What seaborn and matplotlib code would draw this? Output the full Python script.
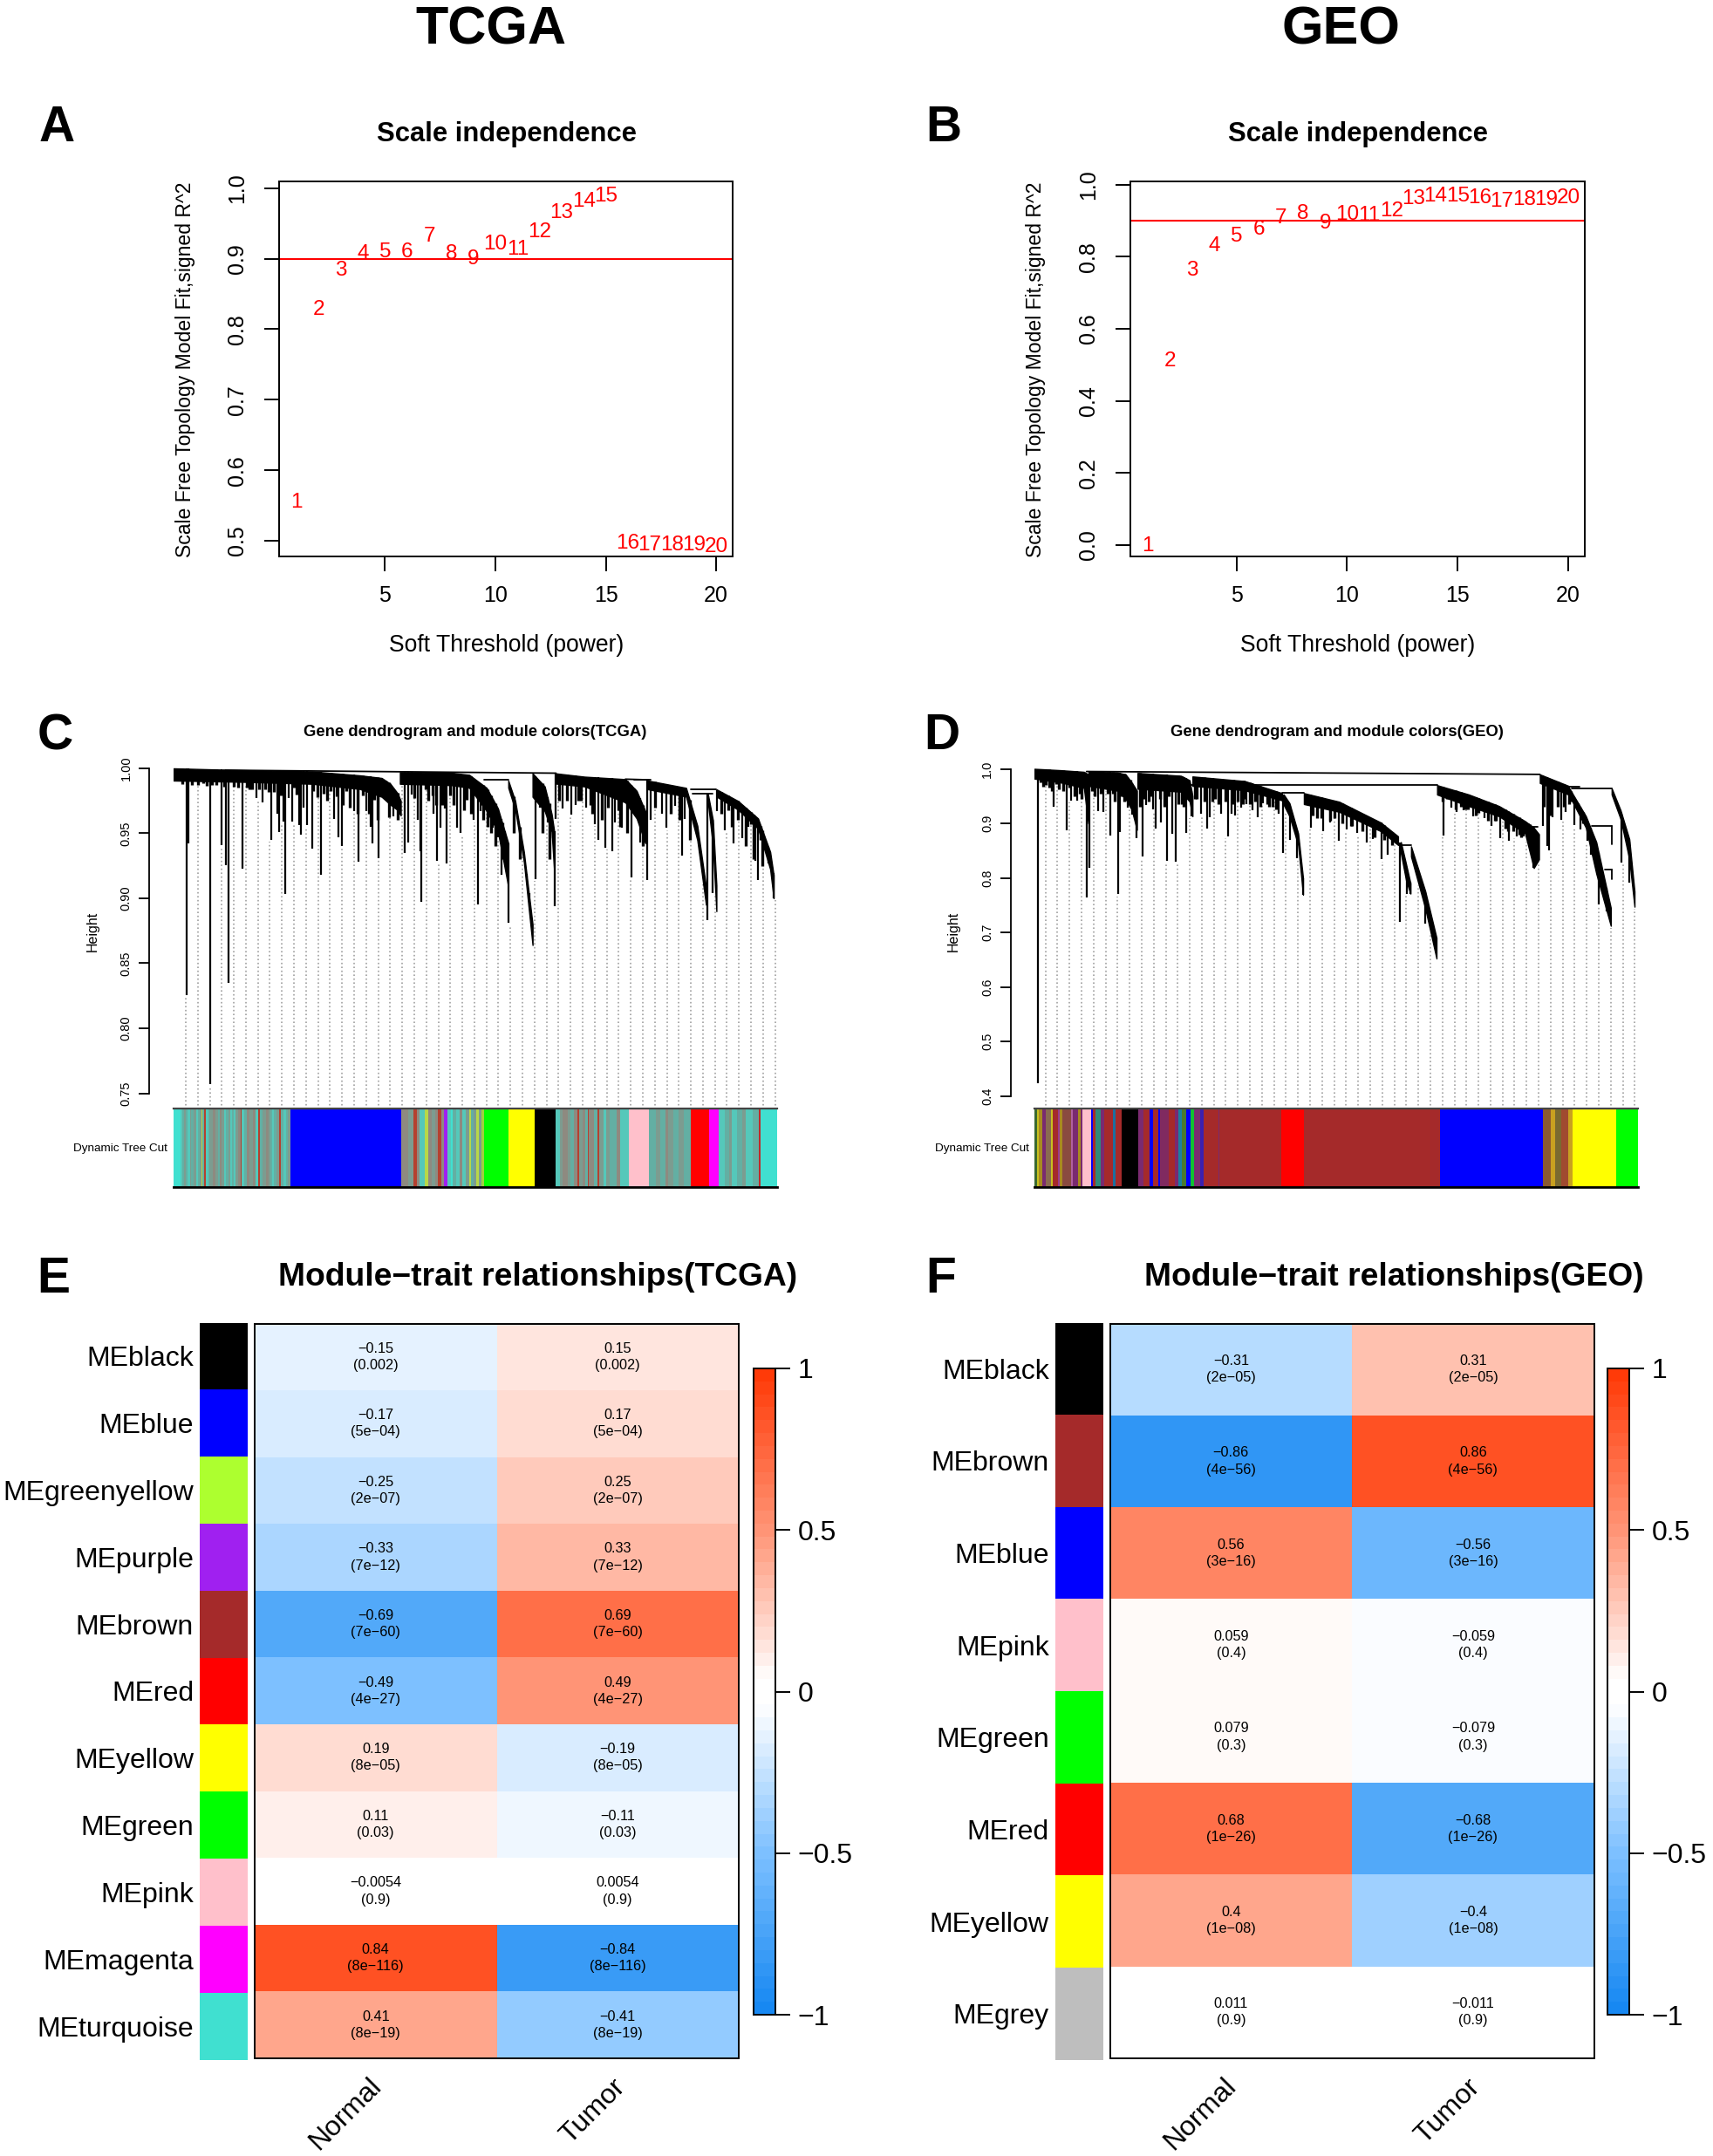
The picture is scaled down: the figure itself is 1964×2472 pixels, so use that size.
import numpy as np
import seaborn as sns
import matplotlib.pyplot as plt
from matplotlib.colors import LinearSegmentedColormap, ListedColormap

W, H = 1965, 2472

sns.set_theme(style='ticks', rc={'axes.edgecolor': 'black', 'text.color': 'black', 'xtick.color': 'black',
                                 'ytick.color': 'black', 'axes.labelcolor': 'black'})
plt.rcParams['font.family'] = ['Liberation Sans', 'DejaVu Sans']

# scale independence
powers = list(range(1, 21))
tcga_fit = [.555, .828, .884, .907, .91, .91, .932, .907, .90, .921, .913, .938, .965, .981, .989,
            .496, .494, .494, .494, .491]
geo_fit = [-.003, .51, .761, .83, .855, .876, .906, .918, .893, .916, .914, .927, .96, .968, .968,
           .962, .953, .958, .958, .963]

# dendrogram TCGA: bodies of the branches
c_band_pos = [[0, 80, 160, 215, 240, 250, 258, 262], [261, 320, 341, 361, 374, 386], [386, 394, 404, 414],
              [414, 428, 436, 439], [440, 474, 521, 534, 544], [547, 591, 604, 614], [616, 622, 626],
              [626, 651, 674, 688, 692]]
c_band_top = [[.9999, .9985, .9975, .9945, .9925, .988, .981, .975], [.997, .9965, .9949, .9849, .9692, .9424],
              [.9905, .9748, .9357, .88], [.9961, .986, .9648, .9513], [.9961, .9935, .9916, .9826, .967],
              [.9905, .9849, .9558, .9088], [.9809, .96, .91], [.9838, .9748, .9614, .9357, .9178]]
c_band_bot = [[.9905, .9895, .988, .984, .978, .972, .968, .9637], [.988, .987, .985, .967, .9513, .9088],
              [.985, .968, .928, .864], [.978, .967, .9513, .92], [.9882, .986, .9737, .9614, .9424],
              [.9838, .9782, .9446, .895], [.975, .94, .89], [.9782, .9681, .9536, .9223, .90]]
c_spike_pos = [14.7, 16.7, 42.7, 55, 60, 63.7, 79.3, 95.7, 102.7, 113, 119.3, 121.3, 126.7, 129, 132.7, 136.7,
               145.3, 147.3, 150, 153.7, 159.7, 170, 185, 190.3, 193.7, 207.7, 213.7, 222.7, 227, 229, 236.7,
               253.7, 267, 270.3, 275, 281.7, 284.3, 286, 299.7, 304, 307.7, 312.7, 314.7, 326.7, 331, 346.3,
               351, 353.7, 368.3, 374.3, 377.7, 382, 386, 407, 410.3, 417, 422.7, 431, 435, 439.3, 441, 448.3,
               458.3, 463.7, 476, 486, 490.3, 497.7, 506, 509, 517, 527.7, 537.7, 545.7, 550, 563.7, 568.7,
               578, 586.7, 589.3, 616, 622, 627, 635.7, 646, 656, 662.7, 671, 674.3, 681, 686, 691.7]
c_spike_tip = [.8257, .942, .757, .941, .9256, .835, .9227, .977, .974, .945, .965, .951, .959, .903, .977, .959,
               .956, .949, .970, .956, .938, .918, .961, .947, .940, .967, .928, .967, .955, .942, .931,
               .963, .935, .943, .98, .960, .936, .897, .965, .929, .954, .969, .927, .954, .950, .960,
               .895, .967, .954, .947, .918, .938, .881, .916, .904, .915, .970, .958, .946, .894, .961, .969,
               .964, .972, .970, .957, .945, .939, .936, .958, .954, .916, .943, .914, .960, .965, .954,
               .971, .933, .961, .883, .904, .967, .952, .942, .946, .955, .929, .914, .937, .927, .900]
c_hair_pos = [21, 27.7, 34, 49, 69, 84, 91, 99, 106, 116, 124, 139, 161, 173, 181, 188, 199, 218, 231, 244,
              291, 299, 319, 338, 470, 481, 501, 513, 531, 640, 651, 666, 677,
              10, 38, 44, 58, 74, 88, 110, 142, 166, 177, 195, 203, 212, 225, 235, 248, 258,
              278, 294, 303, 310, 323, 335, 343, 357, 362, 366, 371, 379, 392, 399, 425, 433,
              445, 454, 467, 483, 494, 515, 523, 541, 555, 573, 583, 595, 632, 644, 660, 669, 679]
c_hair_tip = [.9871, .9871, .9882, .9871, .986, .9849, .9838, .9838, .9838, .9815, .9793, .9849, .9826, .9804,
              .9826, .9782, .9826, .9793, .976, .9771, .9838, .9793, .9793, .976, .975, .972, .97, .968, .972,
              .968, .96, .957, .945,
              .9875, .9865, .987, .986, .985, .984, .982, .98, .978, .975, .972, .97, .965, .965, .96, .962, .96,
              .977, .975, .972, .972, .972, .968, .965, .96, .955, .95, .94, .93, .95, .93, .95, .93,
              .975, .975, .975, .965, .96, .955, .95, .94, .97, .965, .96, .945, .965, .955, .94, .93, .925]
c_link_x0 = [60, 358, 521, 531, 596, 598]
c_link_x1 = [441, 386, 547, 550, 626, 622]
c_link_h0 = [.9985, .9911, .9916, .991, .9838, .9805]
c_link_h1 = [.9962, .9911, .9911, .991, .9838, .9805]

# dendrogram GEO
d_band_pos = [[0, 30, 57, 62], [63, 95, 105, 112, 118], [118.7, 168.7, 178.7, 182], [182, 242, 285],
              [287, 293.7, 303.7, 309.3], [310.3, 351, 398.7, 418.7], [422, 428, 433], [433.7, 450, 463],
              [463.7, 500, 535, 565, 575, 581], [582, 615], [615.3, 635, 647, 663.7], [664.7, 675, 685, 691]]
d_band_top = [[1.0, .9975, .9945, .99], [.9945, .9935, .9898, .975, .96], [.9924, .9872, .979, .95],
              [.986, .9776, .9554], [.953, .937, .8815, .80], [.9554, .9396, .9016, .8762], [.8656, .825, .79],
              [.8577, .7759, .69], [.970, .953, .9317, .904, .892, .88], [.9898, .9687],
              [.966, .9132, .8656, .745], [.9644, .9237, .871, .775]]
d_band_bot = [[.982, .975, .965, .90], [.9685, .96, .945, .925, .888], [.9634, .958, .94, .913],
              [.9687, .9607, .9422], [.934, .913, .86, .769], [.9353, .9211, .8857, .8604], [.845, .795, .771],
              [.839, .7442, .652], [.9528, .9317, .913, .8815, .818, .834], [.974, .9528],
              [.9528, .892, .8076, .712], [.9528, .9078, .834, .747]]
d_spike_pos = [3.7, 22, 37, 42, 49.3, 60.3, 63, 73.7, 79.3, 87.7, 96.3, 98.7, 107.7, 112.7, 118, 124.3, 128.7,
               136.3, 140, 146, 152.7, 158.7, 163, 174.3, 181, 192.3, 198.7, 202, 214.7, 222.7, 227, 231, 237.7,
               244.3, 250.7, 257, 262.7, 281, 286.3, 294.7, 302.7, 309.3, 318, 332, 340.7, 351, 360, 372, 383,
               389.7, 399.3, 406.3, 421, 429.3, 432.7, 450.3, 471, 480.3, 486, 494.3, 504.7, 518.7, 526, 536.3,
               546.3, 555.3, 563.7, 574, 585.7, 590.3, 592.7, 597, 607, 612, 622, 628.7, 637, 640.3, 649.7,
               658.7, 676.3, 685.3]
d_spike_tip = [.4238, .930, .887, .942, .942, .764, .818, .923, .921, .877, .770, .884, .929, .916, .873, .839, .934,
               .926, .891, .902, .831, .881, .829, .883, .913, .918, .89, .911, .917, .876, .918, .914, .929,
               .935, .924, .911, .937, .917, .845, .869, .836, .769, .892, .885, .902, .868, .889, .883, .865,
               .872, .834, .843, .719, .771, .771, .716, .878, .929, .921, .924, .913, .91, .896, .873,
               .868, .876, .876, .818, .896, .858, .85, .911, .907, .921, .897, .889, .868, .843, .752,
               .739, .828, .792]
d_hair_pos = [7, 13, 17, 28, 33, 46, 54, 69, 84, 92, 103, 122, 132, 150, 170, 187, 208, 234, 241, 254, 268, 274,
              325, 345, 366, 412, 475, 491, 499, 511, 531, 542, 551, 560, 568, 616, 618,
              10, 20, 25, 40, 52, 66, 76, 90, 100, 110, 126, 135, 145, 155, 166, 172, 185, 196, 205, 212, 220, 229,
              240, 248, 260, 270, 278, 320, 330, 340, 355, 365, 378, 392, 403, 470, 485, 496, 508, 522, 530, 545,
              558, 570, 587, 595, 603, 610, 626, 632]
d_hair_tip = [.975, .97, .966, .962, .96, .95, .945, .95, .955, .94, .94, .93, .94, .93, .935, .945, .945, .94, .945,
              .94, .935, .93, .91, .91, .895, .86, .945, .93, .925, .92, .905, .89, .885, .875, .87, .935, .94,
              .968, .96, .972, .965, .955, .96, .955, .955, .95, .93, .945, .95, .945, .95, .935, .93, .945, .94, .94,
              .935, .94, .935, .935, .935, .93, .93, .925, .915, .91, .905, .90, .895, .885, .875, .87, .94, .925,
              .925, .915, .905, .905, .885, .88, .86, .93, .915, .93, .93, .925, .90]
d_link_x0 = [60, 172, 285, 420, 615, 619, 642, 657, 572, 664.7, 664.7]
d_link_x1 = [582, 463.7, 310, 434, 628, 665, 665, 665, 580, 664.7, 664.7]
d_link_h0 = [.9951, .971, .9554, .8604, .9676, .9644, .8947, .8154, .893, .8947, .8154]
d_link_h1 = [.9898, .971, .9554, .8604, .9676, .9644, .8947, .8154, .893, .862, .797]

# module colour strips, in leaf order
TQ, T2, MX, GT, NB, RB, YG = '#40E0D0', '#55C8BA', '#63AFA3', '#7C9C90', '#8E8A80', '#B5402F', '#B8D848'
c_strip_colors = [TQ, T2, MX, GT, MX, T2, GT, MX, GT, T2, MX, GT, YG, MX, RB, T2, MX, GT, NB, GT, MX, NB, GT, T2, MX,
                  GT, T2, MX, T2, GT, NB, RB, T2, MX, NB, GT, NB, T2, RB, MX, GT, NB, GT, MX, T2, MX, GT, RB, MX, T2,
                  MX, GT, 'blue', NB, GT, RB, NB, T2, YG, NB, GT, NB, RB, NB, '#A020F0', T2, TQ, MX, T2, NB, T2,
                  GT, YG, MX, GT, YG, GT, '#A0D040', '#00FF00', '#FFFF00', 'black',
                  T2, GT, NB, GT, MX, NB, RB, GT, NB, MX, RB, NB, MX, RB, GT, T2, GT, MX, NB, T2, '#FFC0CB',
                  MX, GT, MX, NB, GT, MX, GT, MX, 'red', '#FF00FF',
                  T2, MX, GT, T2, MX, GT, T2, MX, '#C0282A', TQ]
c_strip_widths = [7.7, 2.25, 2.25, 2.25, 1.95, 2.25, 1.55, 3.25, 2.25, 2.25, 2.25, 1.75, .75, 2.25, 2.25, 2.75, 1.75,
                  3.25, 3.25, 3.25, 2.25, 1.95, 2.75, 2.25, 2.75, 1.75, 2.25, 1.55, 2.25, 3.25, 2.55, 1.95, 2.25,
                  3.55, 3.25, 3.25, 3.55, 2.95, 1.75, 3.25, 3.75, 3.25, 2.25, 1.95, 1.95, 3.25, 2.75, 1.95, 3.25,
                  2.25, 2.75, 2.75, 128, 7.9, 5.9, 4.2, 2.4, 6.1, 4.2, 3.9, 3.9, 3.2, 4.2, 2.6, 4.2, 3.9, 2.9, 3.9,
                  3.4, 3.4, 3.4, 4.2, 1.9, 3.2, 3.2, 2.6, 3.4, 3.4, 28, 29.6, 24.4,
                  5, 3, 6, 3, 4, 4, 2, 4, 3, 3, 1.5, 6, 4, 2, 5, 3, 4, 8, 4, 10.5, 23,
                  8, 5, 6, 3, 6, 6, 6, 8, 21, 11,
                  7, 5, 3, 6, 6, 4, 8, 8, 2, 18.6]
BR, PB, MU = '#A52A2A', '#7A2A70', '#A88A20'
d_strip_colors = ['#3A6A30', '#C8C020', MU, PB, '#8A6A50', '#C8C020', BR, '#9A3A90', MU, '#8A4A40', '#B060A0', PB, MU,
                  PB, '#FFC0CB', 'blue', BR, '#2E8B7A', PB, BR, '#1A70A0', BR, 'black', PB, BR, 'blue', BR, 'blue',
                  '#802A60', BR, PB, '#1A80A0', '#4A7A30', 'blue', '#10C030', PB, '#3A20B0', BR, PB, BR, 'red', BR,
                  'blue', '#8A5A30', '#C8A020', '#7A6A30', '#A04A30', '#C8A020', '#FFFF00', '#00FF00']
d_strip_widths = [2.7, 2.3, 4.3, 4, 6, 1.7, 5.7, 2.7, 2.3, 10, 2.3, 6, 3.3, 1.7, 10, 2.3, 3.4, 6, 4, 9.3, 3.4, 7.3,
                  18.7, 5.7, 7.6, 4, 6, 2.3, 10, 6.7, 4.3, 4, 5, 4.3, 4, 7.3, 4.4, 16.7, 1, 72, 26, 156.8,
                  118.5, 9, 5, 7, 8, 5, 49.7, 26.3]

# module-trait heatmaps
tcga_modules = ['MEblack', 'MEblue', 'MEgreenyellow', 'MEpurple', 'MEbrown', 'MEred', 'MEyellow', 'MEgreen',
                'MEpink', 'MEmagenta', 'MEturquoise']
tcga_module_colors = ['black', 'blue', '#ADFF2F', '#A020F0', '#A52A2A', 'red', 'yellow', '#00FF00', '#FFC0CB',
                      '#FF00FF', '#40E0D0']
tcga_normal = [-.15, -.17, -.25, -.33, -.69, -.49, .19, .11, -.0054, .84, .41]
tcga_text = ['0.15', '0.17', '0.25', '0.33', '0.69', '0.49', '0.19', '0.11', '0.0054', '0.84', '0.41']
tcga_p = ['0.002', '5e−04', '2e−07', '7e−12', '7e−60', '4e−27', '8e−05', '0.03', '0.9', '8e−116', '8e−19']
geo_modules = ['MEblack', 'MEbrown', 'MEblue', 'MEpink', 'MEgreen', 'MEred', 'MEyellow', 'MEgrey']
geo_module_colors = ['black', '#A52A2A', 'blue', '#FFC0CB', '#00FF00', 'red', 'yellow', '#BEBEBE']
geo_normal = [-.31, -.86, .56, .059, .079, .68, .4, .011]
geo_text = ['0.31', '0.86', '0.56', '0.059', '0.079', '0.68', '0.4', '0.011']
geo_p = ['2e−05', '4e−56', '3e−16', '0.4', '0.3', '1e−26', '1e−08', '0.9']
traits = ['Normal', 'Tumor']

# blue-white-red scale of the heatmaps
cmap_stops = [(0, '#1788F2'), (.25, '#7FC1FF'), (.425, '#E3F1FF'), (.48, 'white'), (.52, 'white'), (.575, '#FFE3DC'),
              (.75, '#FF9678'), (1, '#FF3A08')]
bwr = LinearSegmentedColormap.from_list('bwr50', cmap_stops, N=50)


def add_axes(fig, x0, y0, x1, y1):
    # pixel box, y measured from the top of the figure
    return fig.add_axes([x0 / W, 1 - y1 / H, (x1 - x0) / W, (y1 - y0) / H])


def put_text(fig, x, y, s, **kw):
    kw.setdefault('ha', 'center')
    kw.setdefault('va', 'center')
    fig.text(x / W, 1 - y / H, s, **kw)


def scale_panel(ax, fit, xlim, ylim, yticks):
    ax.set_xlim(xlim)
    ax.set_ylim(ylim)
    ax.axhline(.9, color='red', lw=1.5, zorder=1)
    for p, v in zip(powers, fit):
        ax.text(p, v, str(p), color='red', fontsize=17.5, ha='center', va='center', zorder=2)
    ax.set_xticks([5, 10, 15, 20])
    ax.set_yticks(yticks)
    ax.set_yticklabels([f'{t:.1f}' for t in yticks], rotation=90, va='center')
    ax.tick_params(axis='x', length=12, width=1.4, labelsize=18, pad=12)
    ax.tick_params(axis='y', length=12, width=1.4, labelsize=18, pad=14)
    for s in ax.spines.values():
        s.set_linewidth(1.4)


def band_value(bands_pos, bands, pos):
    # band under pos, or the closest one when pos falls in a gap
    gaps = [0 if bp[0] <= pos <= bp[-1] else min(abs(bp[0] - pos), abs(bp[-1] - pos)) for bp in bands_pos]
    i = int(np.argmin(gaps))
    return float(np.interp(pos, bands_pos[i], bands[i]))


def tree_panel(ax, band_pos, band_top, band_bot, spike_pos, spike_tip, hair_pos, hair_tip,
               link_x0, link_x1, link_h0, link_h1, guide_x, ticks, offset):
    ax.spines['left'].set_position(('outward', offset))
    span = ax.get_ylim()
    # hanging guides first so the branches cover them
    for gx in guide_x:
        low = band_value(band_pos, band_bot, gx)
        near = [t for p, t in zip(spike_pos, spike_tip) if abs(p - gx) < 2.5]
        if near:
            low = min(low, min(near))
        ax.vlines(gx, span[0], low - (span[1] - span[0]) * .006, color='#a0a0a0', lw=1.2,
                  linestyles=(0, (1, 1.7)), zorder=1)
    for p, t, b in zip(band_pos, band_top, band_bot):
        ax.fill_between(p, t, b, color='black', lw=1, zorder=3)
    for x, t in zip(spike_pos, spike_tip):
        ax.vlines(x, t, band_value(band_pos, band_top, x), color='black', lw=1.6, zorder=2)
    for x, t in zip(hair_pos, hair_tip):
        ax.vlines(x, t, band_value(band_pos, band_top, x), color='black', lw=2.4, zorder=2)
    for x0, x1, h0, h1 in zip(link_x0, link_x1, link_h0, link_h1):
        ax.plot([x0, x1], [h0, h1], color='black', lw=1.3, zorder=3)
    sns.despine(ax=ax, bottom=True)
    ax.set_xticks([])
    ax.set_yticks(ticks)
    digits = 2 if len(ticks) == 6 else 1
    ax.set_yticklabels([f'{t:.{digits}f}' for t in ticks], rotation=90, va='center')
    ax.tick_params(axis='y', length=9, width=1.3, labelsize=10.5, pad=5)
    ax.spines['left'].set_linewidth(1.3)
    ax.spines['left'].set_bounds(ticks[0], ticks[-1])


def strip_panel(ax, colors, widths, total):
    left = np.concatenate([[0], np.cumsum(widths)[:-1]])
    ax.bar(left, 1, width=widths, align='edge', color=colors, lw=0)
    ax.set_xlim(0, total)
    ax.set_ylim(0, 1)
    ax.set_xticks([])
    ax.set_yticks([])
    sns.despine(ax=ax, left=True, right=True, top=False)
    ax.spines['top'].set_linewidth(1.6)
    ax.spines['top'].set_color('#444444')
    ax.spines['bottom'].set_linewidth(2)


def trait_panel(fig, modules, module_colors, normal, text, pvals, col_box, heat_box, cbar_box, label_pts):
    n = len(modules)
    ax_col = add_axes(fig, *col_box)
    sns.heatmap(np.arange(n).reshape(-1, 1), ax=ax_col, cmap=ListedColormap(module_colors), cbar=False,
                xticklabels=False, yticklabels=modules)
    ax_col.tick_params(axis='y', length=0, labelsize=23, pad=5, rotation=0)
    for lab in ax_col.get_yticklabels():
        lab.set_va('center_baseline')

    values = np.column_stack([normal, -np.array(normal)])
    annot = []
    for v, t, p in zip(normal, text, pvals):
        left = ('−' if v < 0 else '') + t
        right = ('' if v < 0 else '−') + t
        annot.append([f'{left}\n({p})', f'{right}\n({p})'])
    ax = add_axes(fig, *heat_box)
    ax_cb = add_axes(fig, *cbar_box)
    sns.heatmap(values, ax=ax, cmap=bwr, vmin=-1, vmax=1, annot=np.array(annot), fmt='',
                annot_kws={'fontsize': 11.7, 'color': 'black', 'linespacing': 1.35},
                xticklabels=False, yticklabels=False, cbar_ax=ax_cb, cbar_kws={'ticks': [-1, -.5, 0, .5, 1]})
    for s in ax.spines.values():
        s.set_visible(True)
        s.set_linewidth(1.4)
    ax_cb.set_yticklabels(['−1', '−0.5', '0', '0.5', '1'])
    ax_cb.tick_params(axis='y', length=12.5, width=1.4, labelsize=23, pad=6, right=True)
    cb = ax.collections[0].colorbar
    cb.outline.set_visible(True)
    cb.outline.set_edgecolor('black')
    cb.outline.set_linewidth(1.4)
    for (x, y), lab in zip(label_pts, traits):
        put_text(fig, x, y, lab, rotation=45, fontsize=23)


fig = plt.figure(figsize=(W / 100, H / 100), dpi=100, facecolor='white')

put_text(fig, 563, 35, 'TCGA', fontsize=44, fontweight='bold')
put_text(fig, 1538, 35, 'GEO', fontsize=44, fontweight='bold')
for lab, x, y in [('A', 65, 147), ('B', 1082, 147), ('C', 63, 844), ('D', 1080, 844), ('E', 61, 1467), ('F', 1079, 1467)]:
    put_text(fig, x, y, lab, fontsize=41, fontweight='bold')

# A, B
ax_a = add_axes(fig, 320, 207.5, 840, 638)
scale_panel(ax_a, tcga_fit, (.2, 20.75), (.4777, 1.0103), [.5, .6, .7, .8, .9, 1.0])
ax_b = add_axes(fig, 1296.5, 207.5, 1817, 638)
scale_panel(ax_b, geo_fit, (.217, 20.75), (-.0314, 1.0097), [0, .2, .4, .6, .8, 1.0])
for x_t, x_l, x_y in [(581, 581, 212), (1557, 1557, 1188)]:
    put_text(fig, x_t, 154, 'Scale independence', fontsize=22.3, fontweight='bold')
    put_text(fig, x_l, 740, 'Soft Threshold (power)', fontsize=19.1)
    put_text(fig, x_y, 424, 'Scale Free Topology Model Fit,signed R^2', fontsize=16.6, rotation=90)

# C, D
ax_c = add_axes(fig, 199, 875, 891, 1272)
ax_c.set_xlim(0, 696)
ax_c.set_ylim(.7376, 1.0039)
tree_panel(ax_c, c_band_pos, c_band_top, c_band_bot, c_spike_pos, c_spike_tip, c_hair_pos, c_hair_tip,
           c_link_x0, c_link_x1, c_link_h0, c_link_h1, np.arange(50) * 13.87 + 14,
           [.75, .8, .85, .9, .95, 1.0], 20)

ax_d = add_axes(fig, 1186, 875, 1878, 1272)
ax_d.set_xlim(0, 695)
ax_d.set_ylim(.4 - (1272 - 1256.5) / 625, 1 + (881.5 - 875) / 625)
tree_panel(ax_d, d_band_pos, d_band_top, d_band_bot, d_spike_pos, d_spike_tip, d_hair_pos, d_hair_tip,
           d_link_x0, d_link_x1, d_link_h0, d_link_h1, np.arange(50) * 13.85 + 12.7,
           [.4, .5, .6, .7, .8, .9, 1.0], 19.7)

put_text(fig, 545, 839, 'Gene dendrogram and module colors(TCGA)', fontsize=13.3, fontweight='bold')
put_text(fig, 1533, 839, 'Gene dendrogram and module colors(GEO)', fontsize=13.3, fontweight='bold')
put_text(fig, 106, 1068, 'Height', fontsize=11.5, rotation=90)
put_text(fig, 1093, 1068, 'Height', fontsize=11.5, rotation=90)

strip_panel(add_axes(fig, 199, 1271, 891, 1361), c_strip_colors, c_strip_widths, 696)
strip_panel(add_axes(fig, 1186, 1271, 1878, 1361), d_strip_colors, d_strip_widths, 695)
put_text(fig, 192, 1317, 'Dynamic Tree Cut', fontsize=9.7, ha='right')
put_text(fig, 1179.5, 1317, 'Dynamic Tree Cut', fontsize=9.7, ha='right')

# E, F
trait_panel(fig, tcga_modules, tcga_module_colors, tcga_normal, tcga_text, tcga_p,
            (229, 1516.5, 283.5, 2361.5), (292, 1517.5, 847, 2360), (864.5, 1569, 889, 2310),
            [(396, 2424), (679.5, 2421)])
trait_panel(fig, geo_modules, geo_module_colors, geo_normal, geo_text, geo_p,
            (1209.6, 1516.5, 1264.7, 2361.5), (1272.6, 1517.5, 1827.7, 2360), (1843.5, 1569, 1868, 2310),
            [(1376, 2424), (1660, 2421)])
put_text(fig, 617, 1464, 'Module−trait relationships(TCGA)', fontsize=26.8, fontweight='bold')
put_text(fig, 1598, 1464, 'Module−trait relationships(GEO)', fontsize=26.8, fontweight='bold')

fig.savefig('out.png', dpi=100, facecolor='white')
